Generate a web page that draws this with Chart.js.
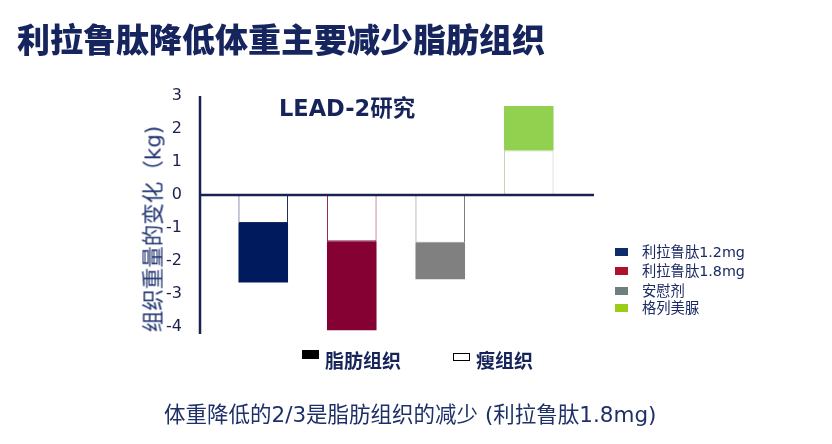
<!DOCTYPE html>
<html>
<head>
<meta charset="utf-8">
<script src="https://cdn.jsdelivr.net/npm/chart.js@4"></script>
<style>
  html, body { margin: 0; padding: 0; background: #fff; }
  body { width: 832px; height: 444px; position: relative; overflow: hidden; font-family: "DejaVu Sans", "Noto Sans CJK SC", sans-serif; }
  #wrap { position: absolute; left: 0; top: 0; width: 832px; height: 444px; }
  .txt { position: absolute; white-space: nowrap; color: #1b2a63; line-height: 1; }
  #title { left: 17px; top: 22px; font: 900 33px "Noto Sans CJK SC"; color: #17255e; line-height: 1; }
  #study { left: 279px; top: 90px; font: bold 22.5px "DejaVu Sans", "Noto Sans CJK SC"; color: #16245a; }
  #ytitle { left: 151px; top: 229px; font: 21.5px "DejaVu Sans", "Noto Sans CJK SC"; color: #1f3370; transform: translate(-50%, -50%) rotate(-90deg); }
  #foot { left: 164px; top: 397px; font: 21.5px "DejaVu Sans", "Noto Sans CJK SC"; color: #1f3068; }
  .leg { position: absolute; left: 615px; font: 14.3px "DejaVu Sans", "Noto Sans CJK SC"; color: #1b2a63; line-height: 1; }
  .leg i { position: absolute; left: 0; top: 3px; width: 13px; height: 8px; }
  .leg span { position: absolute; left: 27px; top: 0; white-space: nowrap; }
  .bleg { position: absolute; top: 350px; font: bold 19px "Noto Sans CJK SC"; color: #16245a; white-space: nowrap; line-height: 1; }
  .bleg i { display: inline-block; vertical-align: top; margin-top: 0px; margin-right: 6px; }
</style>
</head>
<body>
<div id="wrap"><canvas id="chart" width="832" height="444"></canvas></div>
<div class="txt" id="title">利拉鲁肽降低体重主要减少脂肪组织</div>
<div class="txt" id="study">LEAD-2研究</div>
<div class="txt" id="ytitle">组织重量的变化（kg)</div>
<div class="txt" id="foot">体重降低的2/3是脂肪组织的减少 (利拉鲁肽1.8mg)</div>
<div id="legend"></div>
<div class="bleg" style="left:302px"><i style="width:17px;height:9px;background:#000"></i>脂肪组织</div>
<div class="bleg" style="left:453px"><i style="width:17px;height:8px;margin-top:3px;border:1px solid #000;background:#fff;box-sizing:border-box"></i>瘦组织</div>
<script>
var groups = ['利拉鲁肽1.2mg', '利拉鲁肽1.8mg', '安慰剂', '格列美脲'];
var leanTissue = [-0.85, -1.4, -1.45, 1.35];
var fatTissue = [-1.8, -2.7, -1.1, 1.35];
var yTicks = [-4, -3, -2, -1, 0, 1, 2, 3];

var fatColors = ['#001a5e', '#850033', '#808080', '#92d050'];
var leanBorders = ['#1a2a5a', '#8a2050', '#7a7a7a', '#c4cfb8'];
var legendColors = ['#0d2d6a', '#b0102a', '#6e7f80', '#9ccc1a'];

// right side legend
var legendTops = [245, 264, 284, 301];
var lg = document.getElementById('legend');
groups.forEach(function (g, i) {
    var d = document.createElement('div');
    d.className = 'leg';
    d.style.top = legendTops[i] + 'px';
    d.innerHTML = '<i style="background:' + legendColors[i] + '"></i><span>' + g + '</span>';
    lg.appendChild(d);
});

// axis lines drawn at the zero value / left edge
var axisLines = {
    id: 'axisLines',
    afterDatasetsDraw: function (chart) {
        var ctx = chart.ctx, y = chart.scales.y;
        var zero = y.getPixelForValue(0);
        ctx.save();
        ctx.strokeStyle = '#1a2050';
        ctx.lineWidth = 2.5;
        ctx.beginPath();
        ctx.moveTo(200, 96);
        ctx.lineTo(200, 334);
        ctx.moveTo(200, zero);
        ctx.lineTo(594, zero);
        ctx.stroke();
        ctx.restore();
    }
};

var ctx = document.getElementById('chart').getContext('2d');
var myChart = new Chart(ctx, {
    type: 'bar',
    data: {
        labels: groups,
        datasets: [{
            label: '瘦组织',
            data: leanTissue,
            backgroundColor: '#ffffff',
            borderColor: leanBorders,
            borderWidth: 1
        }, {
            label: '脂肪组织',
            data: fatTissue,
            backgroundColor: fatColors,
            borderWidth: 0
        }]
    },
    options: {
        responsive: false,
        animation: false,
        layout: { padding: { left: 0, right: 259, top: 96, bottom: 110.4 } },
        datasets: { bar: { categoryPercentage: 1, barPercentage: 0.56 } },
        plugins: { legend: { display: false }, tooltip: { enabled: false } },
        scales: {
            x: { stacked: true, display: false },
            y: {
                stacked: true,
                min: -4.2,
                max: 3,
                afterFit: function (s) { s.width = 219; },
                afterBuildTicks: function (s) { s.ticks = yTicks.map(function (v) { return { value: v }; }); },
                grid: { display: false },
                border: { display: false },
                ticks: { padding: 29, color: '#1a1f4d', font: { family: 'DejaVu Sans', size: 16 } }
            }
        }
    },
    plugins: [axisLines]
});
</script>
</body>
</html>
